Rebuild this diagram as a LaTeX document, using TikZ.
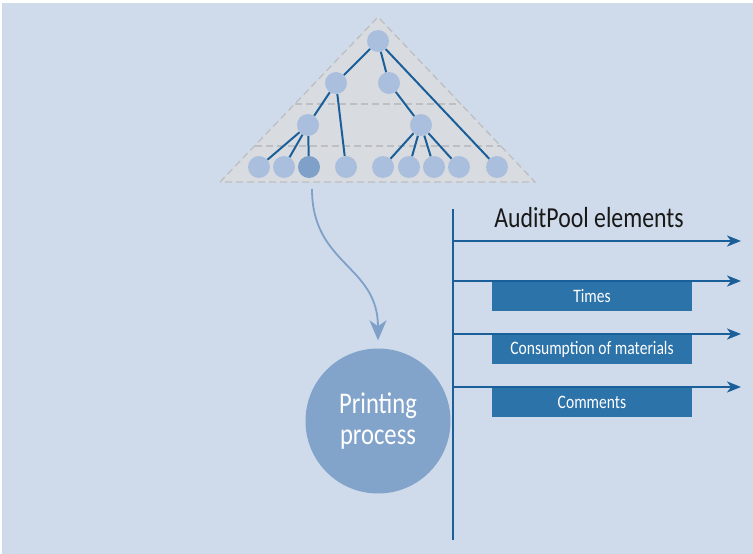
\documentclass[tikz,border=0pt]{standalone}
\usepackage{fontspec}
\setmainfont{Carlito}[FakeStretch=0.82]
\usetikzlibrary{arrows.meta}

\definecolor{bgblue}{HTML}{CFDBEB}
\definecolor{trigray}{HTML}{D8DBDF}
\definecolor{dashgray}{HTML}{BDBFC2}
\definecolor{nodeblue}{HTML}{AABFDD}
\definecolor{leafdark}{HTML}{7FA0C8}
\definecolor{lineblue}{HTML}{1A5F99}
\definecolor{boxblue}{HTML}{2C73AA}
\definecolor{ppblue}{HTML}{82A3CA}

\tikzset{
  treenode/.style={circle, fill=nodeblue, minimum size=22pt, inner sep=0pt},
  treeedge/.style={draw=lineblue, line width=2pt},
  layerline/.style={draw=dashgray, line width=1.3pt, dash pattern=on 7pt off 4pt},
  elembox/.style={fill=boxblue, text=white, minimum width=200pt, minimum height=29pt,
    inner sep=0pt, font=\fontsize{19}{21}\selectfont},
  elemarrow/.style={draw=lineblue, line width=1.8pt, -{Stealth[length=14pt, width=11pt, inset=4pt]}},
}

\begin{document}
\begin{tikzpicture}[x=1pt, y=-1pt]
\useasboundingbox (0,0) rectangle (753,554);
\fill[bgblue] (2,3) rectangle (753,554);

\filldraw[layerline, fill=trigray] (220,182) -- (378,17) -- (535,182) -- cycle;
\draw[layerline] (295,104) -- (461,104);
\draw[layerline] (255,146) -- (501,146);

\node[treenode] (r) at (378,41) {};
\node[treenode] (a) at (336,83) {};
\node[treenode] (b) at (389,83) {};
\node[treenode] (c) at (308,125) {};
\node[treenode] (d) at (421,125) {};
\foreach \x/\c [count=\i] in {259/nodeblue, 284/nodeblue, 309/leafdark, 346/nodeblue,
  383/nodeblue, 409/nodeblue, 434/nodeblue, 459/nodeblue, 497/nodeblue}
  \node[treenode, fill=\c] (l\i) at (\x,167) {};

\foreach \s/\t in {r/a, r/b, r/l9, a/c, a/l4, b/d, c/l1, c/l2, c/l3, d/l5, d/l6, d/l7, d/l8}
  \draw[treeedge] (\s) -- (\t);

\node[circle, fill=ppblue, minimum size=145pt, text=white, align=center,
  font=\fontsize{30}{31}\selectfont] (pp) at (378,421) {Printing\\process};

\coordinate (src) at (312,189);
\draw[draw=leafdark, line width=1.8pt, -{Stealth[length=20pt, width=17pt, inset=6pt]}]
  (src) .. controls (312,265) and (378,265) .. ([yshift=8pt]pp.north);

\coordinate (axtop) at (453,209);
\coordinate (axbot) at (453,540);
\draw[draw=lineblue, line width=2.2pt] (axtop) -- (axbot);

\node[font=\fontsize{29}{30}\selectfont, anchor=base, text=black!90] (title) at (589,227) {AuditPool elements};

\node[elembox] (times) at (592,296) {Times};
\node[elembox] (cons) at (592,349.5) {Consumption of materials};
\node[elembox] (comm) at (592,402.5) {Comments};

\foreach \y [count=\i] in {241,281,334,387} {
  \coordinate (s\i) at (453,\y);
  \coordinate (e\i) at (741,\y);
  \draw[elemarrow] (s\i) -- (e\i);
}
\end{tikzpicture}
\end{document}
